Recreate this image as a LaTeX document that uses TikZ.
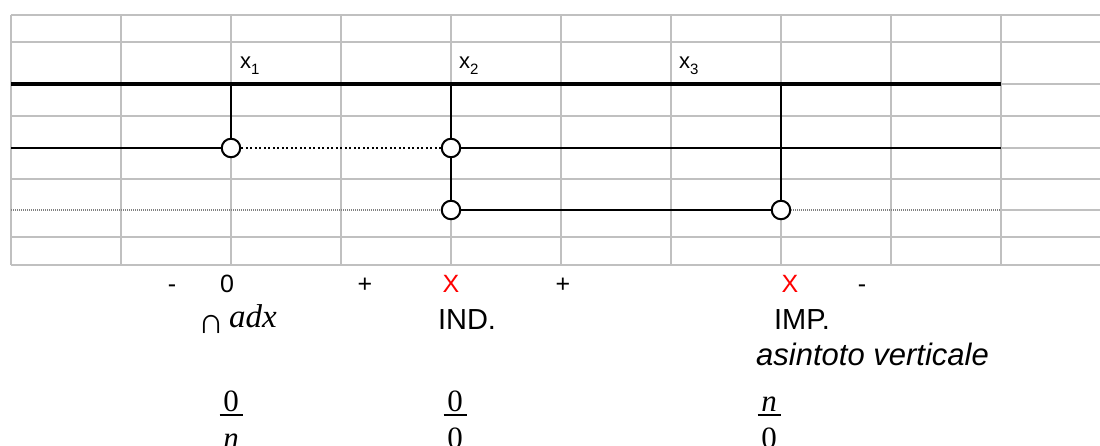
\documentclass[tikz,border=0pt]{standalone}
\usepackage{fontspec}
\setmainfont{Liberation Sans}
\newfontfamily\seriffont{Liberation Serif}
\definecolor{gridc}{HTML}{C0C0C0}
\definecolor{dotgrey}{HTML}{808080}
\definecolor{signred}{HTML}{FF0000}
\newcommand\fsz[1]{\fontsize{#1}{#1}\selectfont}
\newcommand\stackfrac[2]{\vbox{\hbox to 23pt{\hss\vphantom{0}#1\hss}\kern3pt\hrule height 2pt\kern11pt\hbox to 23pt{\hss\vphantom{0}#2\hss}}}
\tikzset{
  gridline/.style={draw=gridc, line width=2.2pt},
  axisline/.style={line width=4pt},
  blackline/.style={line width=2pt},
  dotline/.style={line width=2pt, dash pattern=on 2pt off 2.5pt},
  greydot/.style={draw=dotgrey, line width=1.3pt, dash pattern=on 1pt off 1pt},
  hole/.style={circle, draw, line width=2pt, fill=white, minimum size=18.5pt, inner sep=0pt},
  lab/.style={inner sep=0pt, anchor=base},
  xlab/.style={inner sep=0pt, anchor=base west, font=\fsz{22}},
  sign/.style={lab, font=\fsz{25}},
  redsign/.style={sign, text=signred},
  word/.style={lab, font=\fsz{29}},
  fracnode/.style={lab, font=\seriffont\fsz{31}}
}
\begin{document}
\begin{tikzpicture}[x=1pt, y=-1pt]
\useasboundingbox[fill=white] (0,0) rectangle (1100,446);
% grid
\foreach \yy in {15,42,116,179,237,265} \draw[gridline] (11,\yy) -- (1100,\yy);
\foreach \yy in {84,148,210} \draw[gridline] (1001,\yy) -- (1100,\yy);
\foreach \xx in {11,121,...,1001} \draw[gridline] (\xx,15) -- (\xx,265);
% axis
\coordinate (aL) at (11,84);
\coordinate (aR) at (1001,84);
\draw[axisline] (aL) -- (aR);
% holes
\node[hole] (c1) at (231,148) {};
\node[hole] (c2) at (451,148) {};
\node[hole] (c3) at (451,210) {};
\node[hole] (c4) at (781,210) {};
\coordinate (t1) at (231,84);
\coordinate (t2) at (451,84);
\coordinate (t3) at (781,84);
\coordinate (L2) at (11,148);
\coordinate (R2) at (1001,148);
\coordinate (L3) at (11,210);
\coordinate (R3) at (1001,210);
% connectors
\draw[blackline] (t1) -- (c1);
\draw[blackline] (t2) -- (c2);
\draw[blackline] (c2) -- (c3);
\draw[blackline] (t3) -- (c4);
\draw[blackline] (L2) -- (c1);
\draw[dotline] (c1) -- (c2);
\draw[blackline] (c2) -- (R2);
\draw[greydot] (L3) -- (c3);
\draw[blackline] (c3) -- (c4);
\draw[greydot] (c4) -- (R3);
% x labels
\node[xlab] (x1) at (240,69) {x\lower6pt\hbox{\fsz{15}1}};
\node[xlab] (x2) at (459,69) {x\lower6pt\hbox{\fsz{15}2}};
\node[xlab] (x3) at (679,69) {x\lower6pt\hbox{\fsz{15}3}};
% sign row
\node[sign] (s1) at (172,293) {-};
\node[sign] (s2) at (227,293) {0};
\node[sign] (s3) at (365,293) {+};
\node[redsign] (s4) at (451,293) {X};
\node[sign] (s5) at (563,293) {+};
\node[redsign] (s6) at (790,293) {X};
\node[sign] (s7) at (862,293) {-};
% second row
\node[lab, font=\seriffont\fsz{36}] (cap) at (211,333) {∩};
\node[lab, anchor=base west, font=\seriffont\itshape\fsz{33}] (adx) at (229,327) {adx};
\node[word] (ind) at (467,329) {IND.};
\node[word] (imp) at (802,329) {IMP.};
\node[lab, anchor=base west, font=\itshape\fsz{31}] (asin) at (756,365) {asintoto verticale};
% fractions
\node[fracnode] (f1) at (231,448) {\stackfrac{0}{\itshape n}};
\node[fracnode] (f2) at (455,448) {\stackfrac{0}{0}};
\node[fracnode] (f3) at (769,448) {\stackfrac{\itshape n}{0}};
\end{tikzpicture}
\end{document}
